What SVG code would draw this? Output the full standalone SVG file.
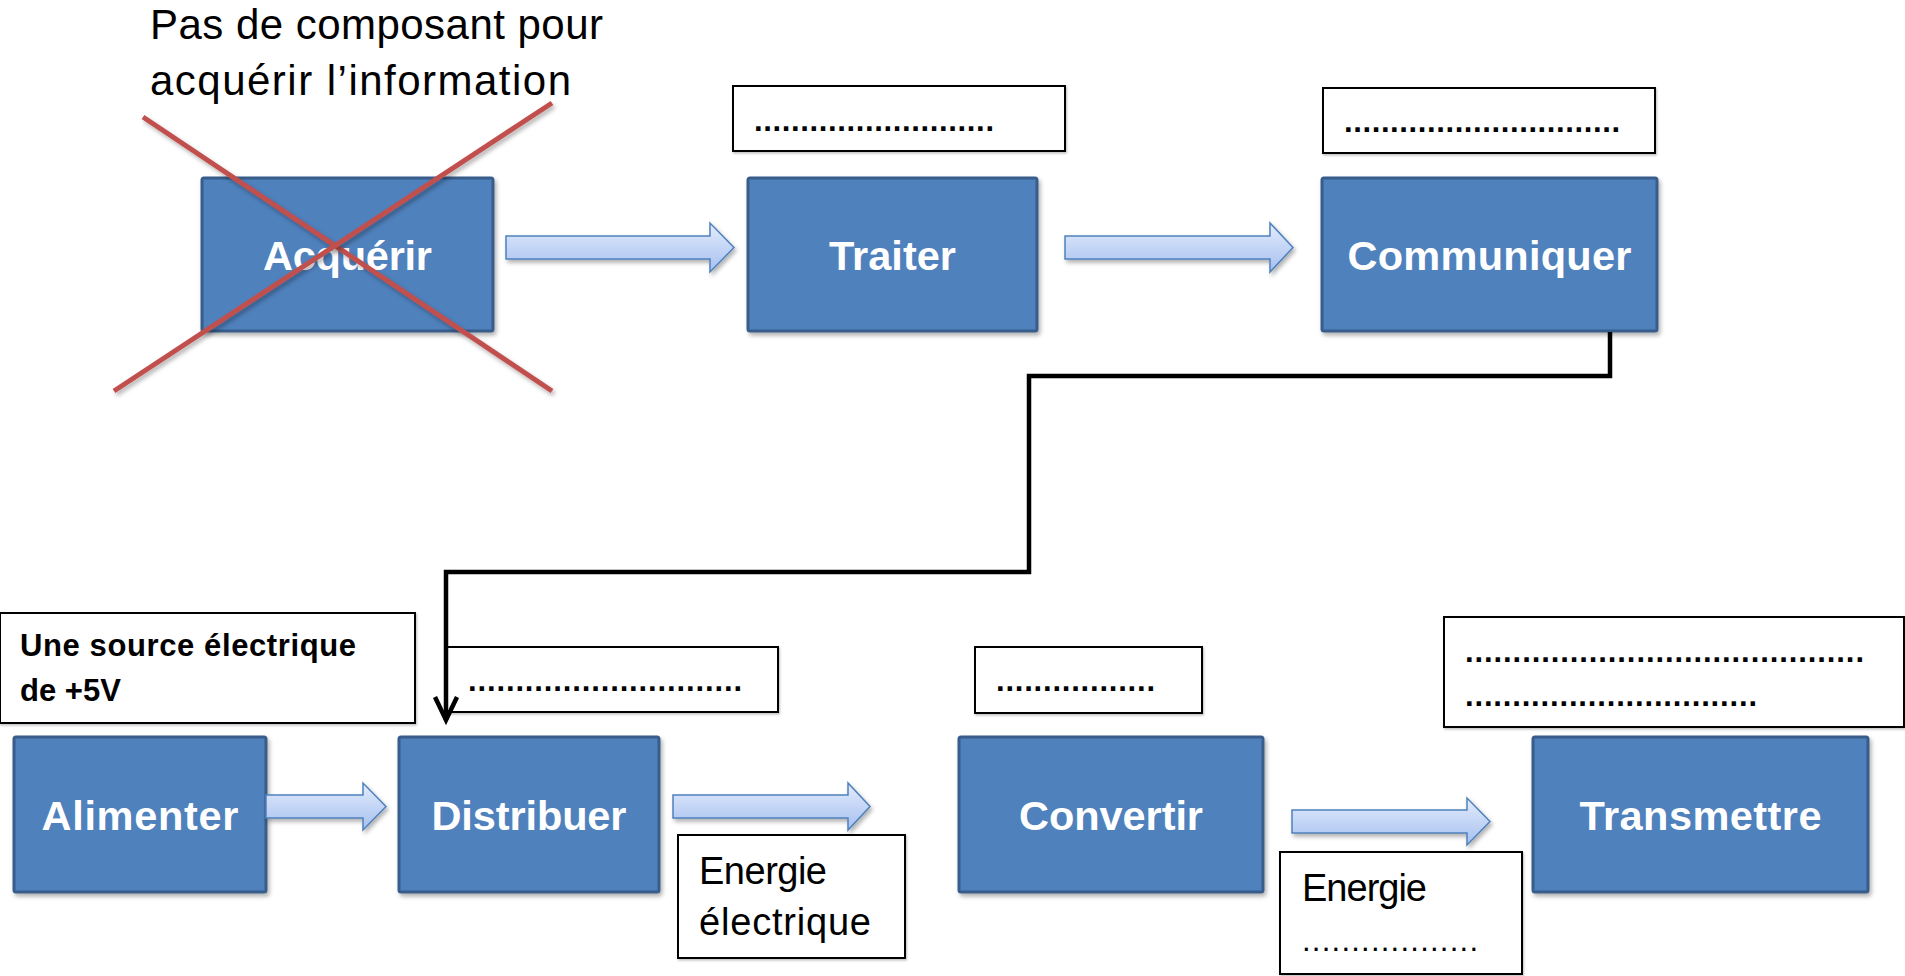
<svg xmlns="http://www.w3.org/2000/svg" width="1905" height="976" viewBox="0 0 1905 976">
<defs>
<style>
.blk{fill:#4F81BD;stroke:#385D8A;stroke-width:3;filter:url(#sh)}
.lbl{font-family:"Liberation Sans",Arial,sans-serif;font-weight:bold;font-size:41.5px;fill:#fff;text-anchor:middle}
.tb{fill:#fff;stroke:#000;stroke-width:2;filter:url(#sh2)}
.dots{font-family:"Liberation Sans",Arial,sans-serif;font-weight:bold;font-size:31px;fill:#000}
.rdots{font-family:"Liberation Sans",Arial,sans-serif;font-size:31px;fill:#000}
.txt{font-family:"Liberation Sans",Arial,sans-serif;font-size:38px;fill:#000}
.btxt{font-family:"Liberation Sans",Arial,sans-serif;font-weight:bold;font-size:31px;fill:#000}
.big{font-family:"Liberation Sans",Arial,sans-serif;font-size:42px;fill:#000}
.barrow{fill:url(#ag);stroke:#4F81BD;stroke-width:1.5;filter:url(#sh)}
.cross{stroke:#C0504D;stroke-width:5;fill:none;filter:url(#sh)}
.conn{stroke:#000;stroke-width:4.5;fill:none}
</style>
<linearGradient id="ag" x1="0" y1="0" x2="0" y2="1">
<stop offset="0" stop-color="#E3ECFC"/>
<stop offset="1" stop-color="#A6C0F0"/>
</linearGradient>
<filter id="sh" x="-10%" y="-10%" width="130%" height="130%">
<feDropShadow dx="2" dy="3" stdDeviation="2" flood-color="#000" flood-opacity="0.3"/>
</filter>
<filter id="sh2" x="-10%" y="-10%" width="130%" height="130%">
<feDropShadow dx="1" dy="1.5" stdDeviation="1" flood-color="#000" flood-opacity="0.25"/>
</filter>
<marker id="vhead" markerUnits="userSpaceOnUse" markerWidth="30" markerHeight="30" refX="24" refY="12" orient="auto" viewBox="0 0 30 24">
<path d="M1,1 L24,12 L1,23" fill="none" stroke="#000" stroke-width="4.5" stroke-linejoin="miter"/>
</marker>
</defs>
<rect width="1905" height="976" fill="#fff"/>

<g id="note-top">
<text class="big" x="150" y="39" textLength="453">Pas de composant pour</text>
<text class="big" x="150" y="95" textLength="421">acquérir l’information</text>
</g>

<g id="acquerir">
<rect class="blk" x="202" y="178" width="291" height="153" rx="2"/>
<text class="lbl" x="347.5" y="270" textLength="169">Acquérir</text>
</g>
<g id="cross">
<line class="cross" x1="143" y1="117" x2="552" y2="391"/>
<line class="cross" x1="552" y1="103" x2="114" y2="391"/>
</g>

<g id="traiter">
<rect class="blk" x="748" y="178" width="289" height="153" rx="2"/>
<text class="lbl" x="892.5" y="270" textLength="127">Traiter</text>
</g>
<g id="traiter-note">
<rect class="tb" x="733" y="86" width="332" height="65"/>
<text class="dots" x="754" y="131" textLength="240">..........................</text>
</g>

<g id="communiquer">
<rect class="blk" x="1322" y="178" width="335" height="153" rx="2"/>
<text class="lbl" x="1489.5" y="270" textLength="284">Communiquer</text>
</g>
<g id="communiquer-note">
<rect class="tb" x="1323" y="88" width="332" height="65"/>
<text class="dots" x="1344" y="132" textLength="276">..............................</text>
</g>

<g id="source-note">
<rect class="tb" x="0" y="613" width="415" height="110"/>
<text class="btxt" x="20" y="656" textLength="336">Une source électrique</text>
<text class="btxt" x="20" y="701">de +5V</text>
</g>

<g id="alimenter">
<rect class="blk" x="14" y="737" width="252" height="155" rx="2"/>
<text class="lbl" x="140" y="830" textLength="197">Alimenter</text>
</g>

<g id="distribuer">
<rect class="blk" x="399" y="737" width="260" height="155" rx="2"/>
<text class="lbl" x="529" y="830" textLength="195">Distribuer</text>
</g>
<g id="distribuer-note">
<rect class="tb" x="447" y="647" width="331" height="65"/>
<text class="dots" x="468" y="691" textLength="274">.............................</text>
</g>

<g id="energie-electrique">
<rect class="tb" x="678" y="835" width="227" height="123"/>
<text class="txt" x="699" y="884" textLength="128">Energie</text>
<text class="txt" x="699" y="935" textLength="172">électrique</text>
</g>

<g id="convertir">
<rect class="blk" x="959" y="737" width="304" height="155" rx="2"/>
<text class="lbl" x="1111" y="830" textLength="184">Convertir</text>
</g>
<g id="convertir-note">
<rect class="tb" x="975" y="647" width="227" height="66"/>
<text class="dots" x="996" y="691" textLength="159">.................</text>
</g>

<g id="energie-dots">
<rect class="tb" x="1280" y="852" width="242" height="122"/>
<text class="txt" x="1302" y="901" textLength="125">Energie</text>
<text class="rdots" x="1302" y="951" textLength="176">..................</text>
</g>

<g id="transmettre">
<rect class="blk" x="1533" y="737" width="335" height="155" rx="2"/>
<text class="lbl" x="1700.5" y="830" textLength="242">Transmettre</text>
</g>
<g id="transmettre-note">
<rect class="tb" x="1444" y="617" width="460" height="110"/>
<text class="dots" x="1465" y="662" textLength="399">..........................................</text>
<text class="dots" x="1465" y="706" textLength="292">...............................</text>
</g>

<g id="connectors">
<path class="barrow" d="M506,236 H710 V223 L734,247.5 L710,272 V259 H506 Z"/>
<path class="barrow" d="M1065,236 H1270 V223 L1293,247.5 L1270,272 V259 H1065 Z"/>
<path class="barrow" d="M266,795 H363 V783 L386,806.5 L363,830 V818 H266 Z"/>
<path class="barrow" d="M673,795 H848 V783 L870,806.5 L848,830 V818 H673 Z"/>
<path class="barrow" d="M1292,810 H1467 V798 L1490,821.5 L1467,845 V833 H1292 Z"/>
<path class="conn" d="M1610,332 V376 H1029 V572 H446 V720" marker-end="url(#vhead)"/>
</g>
</svg>
